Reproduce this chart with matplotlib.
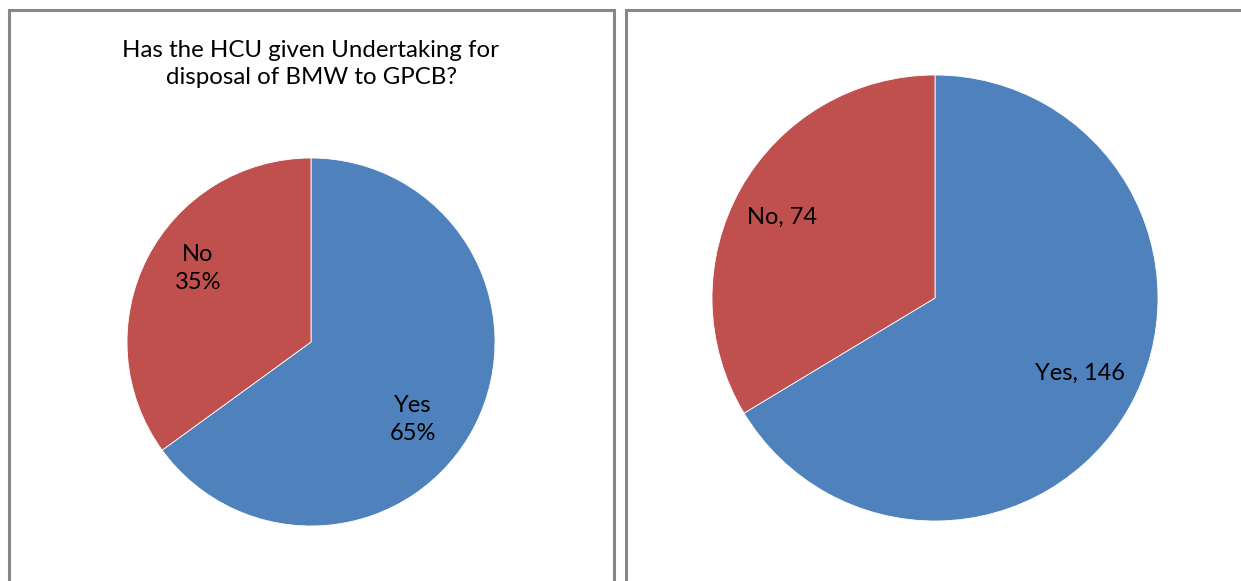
import matplotlib
matplotlib.use('Agg')
import matplotlib.pyplot as plt
from matplotlib.patches import Rectangle

plt.rcParams['font.family'] = ['Lato', 'DejaVu Sans']

# data
labels = ['Yes', 'No']
pct_left = [65, 35]          # left chart, percentages
counts = [146, 74]           # right chart, counts
colors = ['#4F81BD', '#C0504D']
title_left = 'Has the HCU given Undertaking for\ndisposal of BMW to GPCB?'

W, H = 1241, 581
fig = plt.figure(figsize=(W / 100, H / 100), dpi=100)

# panel borders (pixel boxes)
def px_rect(x0, y0, x1, y1):
    return Rectangle((x0 / W, 1 - y1 / H), (x1 - x0) / W, (y1 - y0) / H,
                     transform=fig.transFigure, fill=False,
                     edgecolor='#878787', linewidth=2.2, clip_on=False)

fig.patches.append(px_rect(8.5, 10, 614, 600))
fig.patches.append(px_rect(626, 10, 1260, 600))


def pie_axes(cx, cy, r):
    ax = fig.add_axes([(cx - r) / W, (H - cy - r) / H, 2 * r / W, 2 * r / H])
    ax.axis('off')
    return ax


# left: percentages
ax1 = pie_axes(311, 342, 184)
ax1.pie(pct_left, colors=colors, startangle=90, counterclock=False, radius=1,
        wedgeprops=dict(edgecolor='white', linewidth=0.6))
ax1.set_xlim(-1, 1)
ax1.set_ylim(-1, 1)
ax1.text(0.555, -0.42, f'{labels[0]}\n{pct_left[0]}%', ha='center', va='center',
         fontsize=17, linespacing=1.4)
ax1.text(-0.615, 0.40, f'{labels[1]}\n{pct_left[1]}%', ha='center', va='center',
         fontsize=17, linespacing=1.4)
fig.text(311 / W, 1 - 64 / H, title_left, ha='center', va='center',
         fontsize=17.3, linespacing=1.4)

# right: counts
ax2 = pie_axes(935, 298, 223)
ax2.pie(counts, colors=colors, startangle=90, counterclock=False, radius=1,
        wedgeprops=dict(edgecolor='white', linewidth=0.6))
ax2.set_xlim(-1, 1)
ax2.set_ylim(-1, 1)
ax2.text(0.65, -0.34, f'{labels[0]}, {counts[0]}', ha='center', va='center', fontsize=17)
ax2.text(-0.686, 0.36, f'{labels[1]}, {counts[1]}', ha='center', va='center', fontsize=17)

fig.savefig('out.png', dpi=100)
